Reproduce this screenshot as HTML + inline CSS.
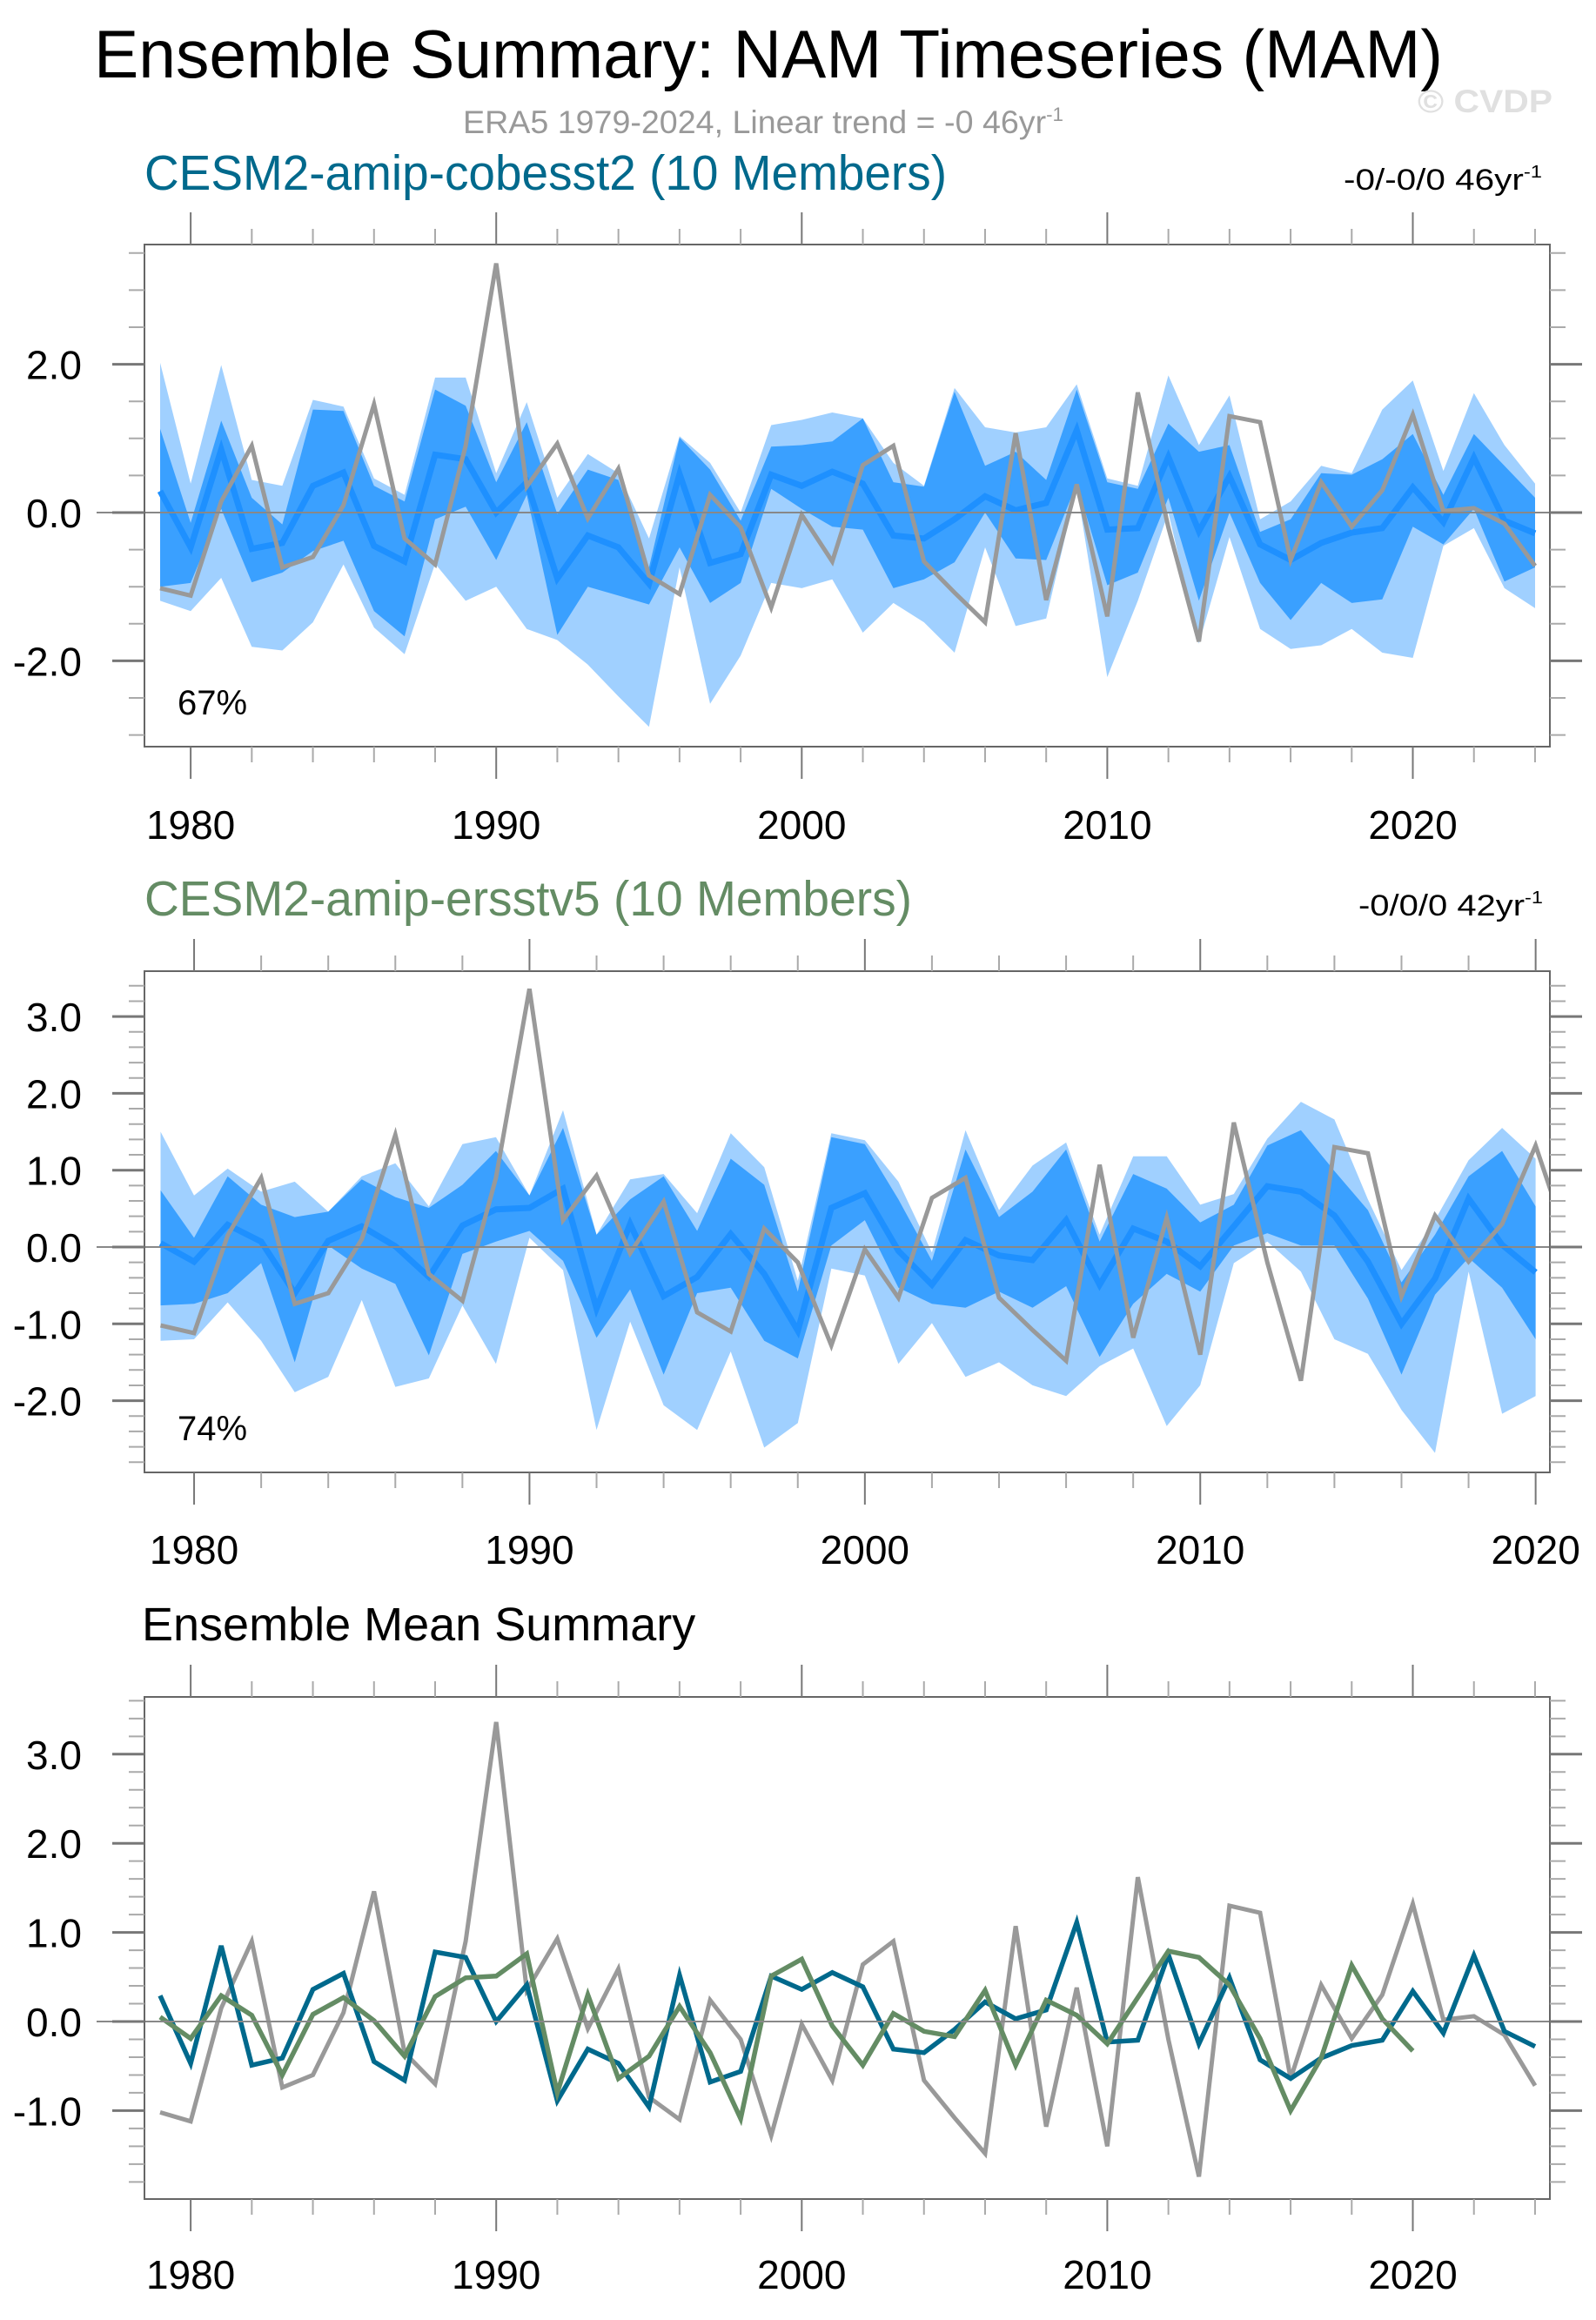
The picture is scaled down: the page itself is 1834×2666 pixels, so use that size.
<!DOCTYPE html>
<html><head><meta charset="utf-8"><style>
html,body{margin:0;padding:0;background:#fff;}
svg{display:block;font-family:"Liberation Sans",sans-serif;}
</style></head><body>
<svg id="chart" width="1834" height="2666" viewBox="0 0 1834 2666" xmlns="http://www.w3.org/2000/svg">
<text x="108" y="89" font-size="78" textLength="1550" lengthAdjust="spacingAndGlyphs" fill="#000">Ensemble Summary: NAM Timeseries (MAM)</text>
<text x="1629" y="129" font-size="37" font-weight="bold" fill="#e0e0e0" textLength="155" lengthAdjust="spacingAndGlyphs">© CVDP</text>
<text x="532" y="153" font-size="37" fill="#999" textLength="690" lengthAdjust="spacingAndGlyphs">ERA5 1979-2024, Linear trend = -0 46yr<tspan dy="-14" font-size="22">-1</tspan></text>
<text x="166" y="218" font-size="57" fill="#00698c" textLength="922" lengthAdjust="spacingAndGlyphs">CESM2-amip-cobesst2 (10 Members)</text>
<text x="1544" y="218" font-size="34" fill="#000" textLength="228" lengthAdjust="spacingAndGlyphs">-0/-0/0 46yr<tspan dy="-14" font-size="20">-1</tspan></text>
<text x="166" y="1052" font-size="57" fill="#648c64" textLength="882" lengthAdjust="spacingAndGlyphs">CESM2-amip-ersstv5 (10 Members)</text>
<text x="1561" y="1052" font-size="34" fill="#000" textLength="212" lengthAdjust="spacingAndGlyphs">-0/0/0 42yr<tspan dy="-14" font-size="20">-1</tspan></text>
<text x="163" y="1885" font-size="54" fill="#000">Ensemble Mean Summary</text>
<g id="layer"></g>
</svg>
<script>
// ---- data ----
const obsYears = [1979,1980,1981,1982,1983,1984,1985,1986,1987,1988,1989,1990,1991,1992,1993,1994,1995,1996,1997,1998,1999,2000,2001,2002,2003,2004,2005,2006,2007,2008,2009,2010,2011,2012,2013,2014,2015,2016,2017,2018,2019,2020,2021,2022,2023,2024];
const obsValues = [-1.02,-1.12,0.15,0.9,-0.74,-0.6,0.1,1.46,-0.35,-0.7,0.9,3.36,0.35,0.93,-0.08,0.59,-0.85,-1.1,0.24,-0.2,-1.28,-0.03,-0.66,0.64,0.9,-0.66,-1.08,-1.48,1.07,-1.18,0.38,-1.4,1.62,-0.2,-1.74,1.3,1.22,-0.64,0.41,-0.19,0.3,1.32,0.02,0.06,-0.15,-0.72];
const cobYears = obsYears;
const cobMean = [0.29,-0.47,0.85,-0.49,-0.41,0.36,0.54,-0.45,-0.66,0.78,0.72,0.0,0.41,-0.89,-0.31,-0.47,-0.96,0.52,-0.68,-0.56,0.51,0.36,0.55,0.39,-0.31,-0.35,-0.09,0.22,0.03,0.13,1.11,-0.23,-0.21,0.75,-0.25,0.49,-0.43,-0.64,-0.41,-0.27,-0.21,0.34,-0.13,0.74,-0.11,-0.28];
const cobP90 = [2.02,0.39,1.99,0.44,0.36,1.52,1.43,0.46,0.24,1.82,1.82,0.53,1.49,0.2,0.79,0.53,-0.35,1.03,0.67,0.0,1.18,1.25,1.35,1.27,0.67,0.36,1.68,1.15,1.08,1.15,1.73,0.46,0.36,1.85,0.91,1.58,-0.09,0.15,0.63,0.53,1.39,1.78,0.56,1.61,0.91,0.39];
const cobP75 = [1.13,-0.14,1.24,0.2,-0.16,1.39,1.37,0.36,0.15,1.66,1.44,0.41,1.22,-0.02,0.58,0.44,-0.74,1.01,0.58,-0.11,0.89,0.91,0.96,1.27,0.41,0.35,1.63,0.63,0.82,0.44,1.66,0.41,0.32,1.2,0.82,0.91,-0.26,-0.09,0.53,0.51,0.72,1.06,0.24,1.06,0.63,0.2];
const cobP25 = [-1.0,-0.95,0.05,-0.94,-0.81,-0.52,-0.38,-1.33,-1.67,-0.09,0.08,-0.64,0.24,-1.65,-1.0,-1.12,-1.24,-0.47,-1.22,-0.95,0.32,0.05,-0.19,-0.23,-1.02,-0.9,-0.67,0.0,-0.62,-0.64,0.39,-0.98,-0.81,0.2,-1.19,0.0,-0.95,-1.45,-0.95,-1.22,-1.17,-0.19,-0.43,0.05,-0.93,-0.74];
const cobP10 = [-1.19,-1.33,-0.88,-1.81,-1.86,-1.48,-0.7,-1.55,-1.91,-0.69,-1.19,-1.0,-1.57,-1.72,-2.05,-2.48,-2.89,-0.74,-2.58,-1.93,-0.95,-1.02,-0.9,-1.62,-1.22,-1.48,-1.89,-0.47,-1.53,-1.43,0.34,-2.22,-1.19,0.0,-1.77,-0.33,-1.57,-1.84,-1.79,-1.57,-1.89,-1.96,-0.45,-0.21,-1.02,-1.29];
const ersYears = [1979,1980,1981,1982,1983,1984,1985,1986,1987,1988,1989,1990,1991,1992,1993,1994,1995,1996,1997,1998,1999,2000,2001,2002,2003,2004,2005,2006,2007,2008,2009,2010,2011,2012,2013,2014,2015,2016,2017,2018,2019,2020];
const ersMean = [0.05,-0.19,0.29,0.07,-0.6,0.08,0.27,0.01,-0.39,0.28,0.49,0.51,0.76,-0.8,0.3,-0.64,-0.39,0.17,-0.35,-1.09,0.51,0.7,-0.05,-0.49,0.09,-0.11,-0.17,0.35,-0.49,0.24,0.07,-0.25,0.27,0.79,0.72,0.41,-0.19,-1.0,-0.41,0.63,0.03,-0.33];
const ersP90 = [1.5,0.67,1.02,0.72,0.85,0.46,0.92,1.09,0.53,1.34,1.43,0.67,1.78,0.16,0.88,0.95,0.44,1.48,1.04,-0.44,1.48,1.39,0.85,-0.07,1.52,0.48,1.06,1.36,0.16,1.18,1.18,0.55,0.69,1.41,1.89,1.66,0.62,-0.3,0.35,1.13,1.55,1.15];
const ersP75 = [0.74,0.12,0.92,0.55,0.39,0.46,0.88,0.65,0.51,0.81,1.25,0.67,1.55,0.16,0.62,0.92,0.21,1.15,0.81,-0.58,1.43,1.34,0.62,-0.18,1.27,0.39,0.72,1.27,0.07,0.95,0.76,0.32,0.55,1.32,1.52,0.99,0.48,-0.46,0.16,0.92,1.25,0.53];
const ersP25 = [-0.76,-0.74,-0.6,-0.21,-1.5,0.02,-0.28,-0.48,-1.41,-0.09,0.07,0.21,-0.18,-1.18,-0.55,-1.66,-0.6,-0.53,-1.22,-1.45,0.02,0.35,-0.53,-0.74,-0.79,-0.58,-0.79,-0.51,-1.43,-0.74,-0.35,-0.58,0.02,0.18,0.02,0.02,-0.67,-1.66,-0.62,-0.14,-0.53,-1.2];
const ersP10 = [-1.22,-1.2,-0.72,-1.22,-1.89,-1.69,-0.69,-1.82,-1.71,-0.76,-1.52,0.12,-0.3,-2.38,-0.97,-2.06,-2.38,-1.36,-2.61,-2.29,-0.28,-0.37,-1.52,-0.99,-1.69,-1.5,-1.8,-1.94,-1.55,-1.32,-2.33,-1.8,-0.21,0.07,-0.32,-1.2,-1.39,-2.12,-2.68,-0.32,-2.17,-1.94];
const panel1YLabels = ["-2.0","0.0","2.0"];
const panel23YLabels2 = ["-2.0","-1.0","0.0","1.0","2.0","3.0"];
const panel3YLabels = ["-1.0","0.0","1.0","2.0","3.0"];
const xTickLabels = ["1980","1990","2000","2010","2020"];

// ---- drawing ----
const NS = "http://www.w3.org/2000/svg";
const layer = document.getElementById('layer');
function mk(tag, attrs, parent){ const e=document.createElementNS(NS,tag); for(const k in attrs) e.setAttribute(k,attrs[k]); (parent||layer).appendChild(e); return e; }

function panel(cfg){
  const g = mk('g',{});
  
  
  const L=166,R=1781,T=cfg.top,B=cfg.bottom;
  const xs = yr => cfg.x0 + (yr-cfg.y0yr)*cfg.xstep;
  const ys = v => cfg.zeroY - v*cfg.ystep;
  const cid = 'clip-'+cfg.name;
  const cp = mk('clipPath',{id:cid},g); mk('rect',{x:L,y:T,width:R-L,height:B-T},cp);
  const inner = mk('g',{'clip-path':'url(#'+cid+')'},g);
  function band(years, hi, lo, color, name){
    let d='M'; years.forEach((y,i)=>{ d+=(i?' L':'')+xs(y).toFixed(1)+' '+ys(hi[i]).toFixed(1);});
    for(let i=years.length-1;i>=0;i--) d+=' L'+xs(years[i]).toFixed(1)+' '+ys(lo[i]).toFixed(1);
    const p=mk('path',{d:d+' Z',fill:color,stroke:'none'},inner);
    
    
  }
  function line(years, vals, color, w, name){
    const pts = years.map((y,i)=>xs(y).toFixed(1)+','+ys(vals[i]).toFixed(1)).join(' ');
    const p=mk('polyline',{points:pts,fill:'none',stroke:color,'stroke-width':w,'stroke-linejoin':'miter'},inner);
    
    
  }
  if(cfg.bands){ cfg.bands.forEach(b=>band(b[0],b[1],b[2],b[3],b[4])); }
  const zl = mk('line',{x1:L-55,x2:R+35,y1:ys(0),y2:ys(0),stroke:'#888','stroke-width':2},g);
  
  
  cfg.lines.forEach(l=>line(l[0],l[1],l[2],l[3],l[4]));
  const fr = mk('rect',{x:L,y:T,width:R-L,height:B-T,fill:'none',stroke:'#666','stroke-width':2},g);
  
  
  for(let v=cfg.minorStart; v<=cfg.yMax+1e-6; v+=cfg.minorStep){
    const vv=Math.round(v*100)/100; const y=ys(vv);
    const major = Math.abs(vv/cfg.majorStep - Math.round(vv/cfg.majorStep))<1e-6;
    const len = major?37:18;
    mk('line',{x1:L-len,x2:L,y1:y,y2:y,stroke:major?'#777':'#aaa','stroke-width':major?3:2},g);
    mk('line',{x1:R,x2:R+len,y1:y,y2:y,stroke:major?'#777':'#aaa','stroke-width':major?3:2},g);
  }
  cfg.yLabels.forEach(s=>{
    const t=mk('text',{x:94,y:ys(parseFloat(s))+17,'font-size':46,'text-anchor':'end',fill:'#000'},g);
    t.textContent=s;
    
    
  });
  for(let yr=1980; yr<=cfg.lastTick; yr+=2){
    const x=xs(yr); const major = yr%10===0; const len=major?37:18;
    mk('line',{x1:x,x2:x,y1:B,y2:B+len,stroke:major?'#777':'#aaa','stroke-width':2},g);
    mk('line',{x1:x,x2:x,y1:T-len,y2:T,stroke:major?'#777':'#aaa','stroke-width':2},g);
  }
  xTickLabels.forEach(s=>{
    const t=mk('text',{x:xs(parseInt(s)),y:cfg.labelY,'font-size':46,'text-anchor':'middle',fill:'#000'},g);
    t.textContent=s;
    
    
  });
  if(cfg.pct){
    const t=mk('text',{x:204,y:cfg.pctY,'font-size':40,fill:'#000'},g);
    t.textContent=cfg.pct;
    
    
  }
}

panel({name:'panel-cobesst2', top:281, bottom:858, x0:184, y0yr:1979, xstep:35.11, zeroY:589, ystep:85.2,
  yMax:3.6, minorStart:-3.0, minorStep:0.5, majorStep:2.0, yLabels:panel1YLabels, lastTick:2024, labelY:964,
  pct:'67%', pctY:821,
  bands:[[cobYears,cobP90,cobP10,'#a0d0ff','band-10-90'],[cobYears,cobP75,cobP25,'#3aa0ff','band-25-75']],
  lines:[[cobYears,cobMean,'#1e90ff',7,'ensemble-mean-line'],[obsYears,obsValues,'#999',5,'obs-line']]});

panel({name:'panel-ersstv5', top:1116, bottom:1692, x0:184.5, y0yr:1979, xstep:38.54, zeroY:1433, ystep:88.3,
  yMax:3.59, minorStart:-2.8, minorStep:0.2, majorStep:1.0, yLabels:panel23YLabels2, lastTick:2020, labelY:1797,
  pct:'74%', pctY:1655,
  bands:[[ersYears,ersP90,ersP10,'#a0d0ff','band-10-90'],[ersYears,ersP75,ersP25,'#3aa0ff','band-25-75']],
  lines:[[ersYears,ersMean,'#1e90ff',7,'ensemble-mean-line'],[obsYears,obsValues,'#999',5,'obs-line']]});

panel({name:'panel-ensemble-mean', top:1950, bottom:2527, x0:184, y0yr:1979, xstep:35.11, zeroY:2323, ystep:102.4,
  yMax:3.64, minorStart:-1.8, minorStep:0.2, majorStep:1.0, yLabels:panel3YLabels, lastTick:2024, labelY:2630,
  lines:[[obsYears,obsValues,'#999',5,'obs-line'],[cobYears,cobMean,'#00698c',5.5,'cobesst2-mean-line'],[ersYears,ersMean,'#648c64',5.5,'ersstv5-mean-line']]});
</script>
</body></html>
